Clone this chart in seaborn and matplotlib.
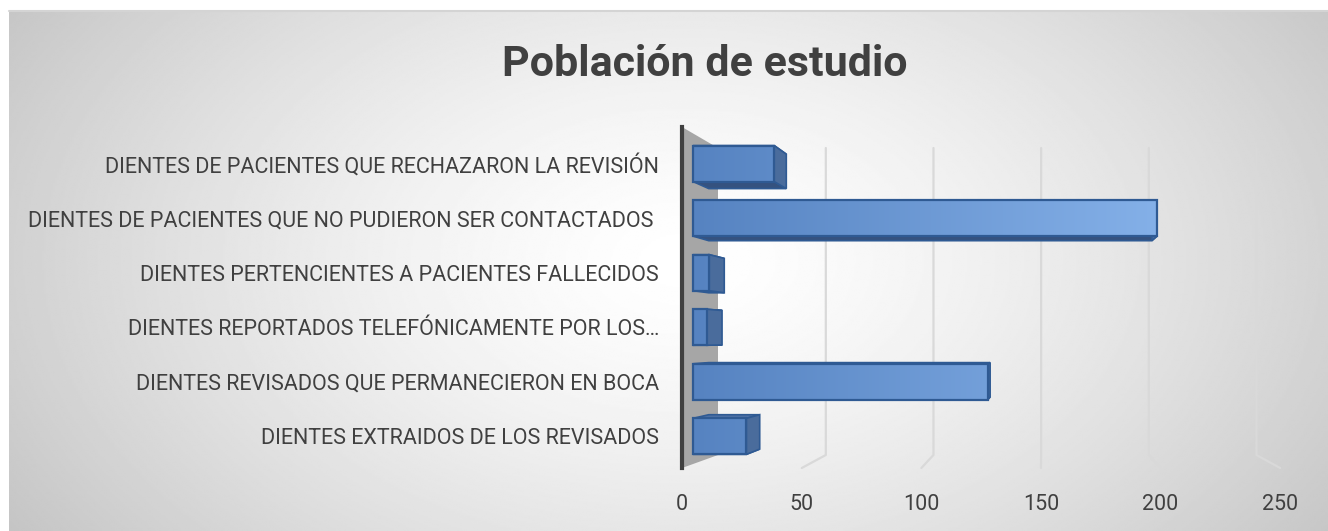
import numpy as np
import pandas as pd
import seaborn as sns
import matplotlib.pyplot as plt
from matplotlib.patches import Polygon
from matplotlib.lines import Line2D
from matplotlib.transforms import IdentityTransform
from matplotlib.colors import to_rgb

categories = [
    "DIENTES DE PACIENTES QUE RECHAZARON LA REVISIÓN",
    "DIENTES DE PACIENTES QUE NO PUDIERON SER CONTACTADOS ",
    "DIENTES PERTENCIENTES A PACIENTES FALLECIDOS",
    "DIENTES REPORTADOS TELEFÓNICAMENTE POR LOS…",
    "DIENTES REVISADOS QUE PERMANECIERON EN BOCA",
    "DIENTES EXTRAIDOS DE LOS REVISADOS",
]
dientes = [35, 200, 7, 6, 127, 23]
x_ticks = [0, 50, 100, 150, 200, 250]
title = "Población de estudio"

sns.set_theme(style="white")
plt.rcParams['font.family'] = ['Roboto', 'DejaVu Sans']

W, H = 1328, 531
fig = plt.figure(figsize=(W / 100, H / 100), dpi=100)
fig.patch.set_facecolor('white')

# radial grey background like the Excel chart area
bg = fig.add_axes([9 / W, 0, 1 - 9 / W, (H - 11) / H], zorder=0)
yy, xx = np.mgrid[0:1:300j, 0:1:700j]
r = np.sqrt(((xx - 0.51) / 0.5) ** 2 + ((yy - 0.48) / 0.8) ** 2)
shade = 1 - 0.24 * np.clip(r / 1.25, 0, 1) ** 1.4
bg.imshow(shade, cmap='gray', vmin=0, vmax=1, aspect='auto',
          extent=[0, 1, 0, 1], interpolation='bilinear')
bg.axis('off')
fig.add_artist(Line2D([9 / W, 1], [1 - 11 / H, 1 - 11 / H], color='#d4d4d4', lw=1.5, zorder=0.5))

# plot area (2.32 px per unit, value 0 at x=693 px)
xmin, xmax = -11 / 2.32, 254
left_px = 682
right_px = left_px + (xmax - xmin) * 2.32
ax = fig.add_axes([left_px / W, 1 - 468 / H, (right_px - left_px) / W, (468 - 127) / H], zorder=2)
ax.patch.set_alpha(0)

df = pd.DataFrame({'categoria': categories, 'dientes': dientes})
sns.barplot(data=df, x='dientes', y='categoria', orient='h', color='#6b99d5',
            edgecolor='#2f5a93', linewidth=1.6, width=0.66, ax=ax)

ax.set_xlim(xmin, xmax)
ax.set_ylim(5.58, -0.67)
ax.set_xticks(x_ticks)
ax.set_xlabel('')
ax.set_ylabel('')
ax.tick_params(axis='x', length=0, labelbottom=False)
ax.tick_params(axis='y', length=0, pad=16.5, labelsize=15.5, labelcolor='#404040')
for s in ['top', 'right', 'bottom']:
    ax.spines[s].set_visible(False)
ax.spines['left'].set_color('#404040')
ax.spines['left'].set_linewidth(3)
ax.spines['left'].set_zorder(6)

# fake 3D: vanishing point and depth (display pixels)
V = np.array([1043.0, H - 337.6])
DEPTH = 0.0997      # front edge of floor -> back wall
BAR_DEPTH = 0.045   # thickness of the bars
FLOOR = 0.03        # front edge of floor -> bar front faces


def toward_v(pts, f):
    pts = np.asarray(pts, float)
    return pts + f * (V - pts)


px0, px1 = ax.transData.transform([(0, 0), (1, 0)])[:, 0]
scale = px1 - px0


def forward(x):
    px = px0 + scale * np.asarray(x, float)
    return (px + FLOOR * (V[0] - px) - px0) / scale


def inverse(s):
    px = px0 + scale * np.asarray(s, float)
    return ((px - FLOOR * V[0]) / (1 - FLOOR) - px0) / scale


# value axis labels sit on the front edge of the floor
sec = ax.secondary_xaxis('bottom', functions=(forward, inverse))
sec.set_xticks(x_ticks)
sec.tick_params(axis='x', length=0, pad=19, labelsize=15.5, labelcolor='#404040')
sec.spines['bottom'].set_visible(False)

# side wall
ylo, yhi = ax.get_ylim()
wall_front = ax.transData.transform([(xmin, yhi), (xmin, ylo)])
wall_back = toward_v(wall_front, DEPTH)
wall = Polygon([wall_front[0], wall_back[0], wall_back[1], wall_front[1]],
               closed=True, transform=IdentityTransform(), facecolor='#a6a6a6',
               edgecolor='none', zorder=1)
fig.add_artist(wall)

# gridlines on back wall + floor
for t in x_ticks[1:]:
    front = ax.transData.transform([(inverse(t), yhi), (inverse(t), ylo)])
    back = toward_v(front, DEPTH)
    pts = np.array([back[0], back[1], front[1]])
    fig.add_artist(Line2D(pts[:, 0], pts[:, 1], transform=IdentityTransform(),
                          color='#d9d9d9', lw=1.6, zorder=1.5))

# bar faces
c0, c1 = np.array(to_rgb('#5683c1')), np.array(to_rgb('#84b0e8'))
grad = np.linspace(0, 1, 256)[None, :, None]
grad_img = c0 + (c1 - c0) * grad

for patch in list(ax.patches):
    x0, y0 = patch.get_x(), patch.get_y()
    x1, y1 = x0 + patch.get_width(), y0 + patch.get_height()
    # y0 is top (inverted axis)
    f = ax.transData.transform([(x0, y0), (x1, y0), (x1, y1), (x0, y1)])
    b = toward_v(f, BAR_DEPTH)
    top_face = Polygon([f[0], f[1], b[1], b[0]], closed=True, transform=IdentityTransform(),
                       facecolor='#4f72a6', edgecolor='#2f5a93', lw=1.2, zorder=3)
    bot_face = Polygon([f[3], f[2], b[2], b[3]], closed=True, transform=IdentityTransform(),
                       facecolor='#35527f', edgecolor='#2f5a93', lw=1.2, zorder=3)
    right_face = Polygon([f[1], f[2], b[2], b[1]], closed=True, transform=IdentityTransform(),
                         facecolor='#4a6c9c', edgecolor='#2f5a93', lw=1.2, zorder=3.2)
    for p in (top_face, bot_face, right_face):
        ax.add_artist(p)
    im = ax.imshow(grad_img, extent=[0, 200, y1, y0], aspect='auto',
                   interpolation='bilinear', zorder=4)
    im.set_clip_path(patch)
    patch.set_facecolor('none')
    patch.set_zorder(4.5)

ax.set_xlim(xmin, xmax)
ax.set_ylim(5.58, -0.67)

fig.text(705 / W, 1 - 65 / H, title, ha='center', va='center', fontsize=31,
         fontweight='bold', color='#404040')

fig.savefig('out.png', dpi=100)
